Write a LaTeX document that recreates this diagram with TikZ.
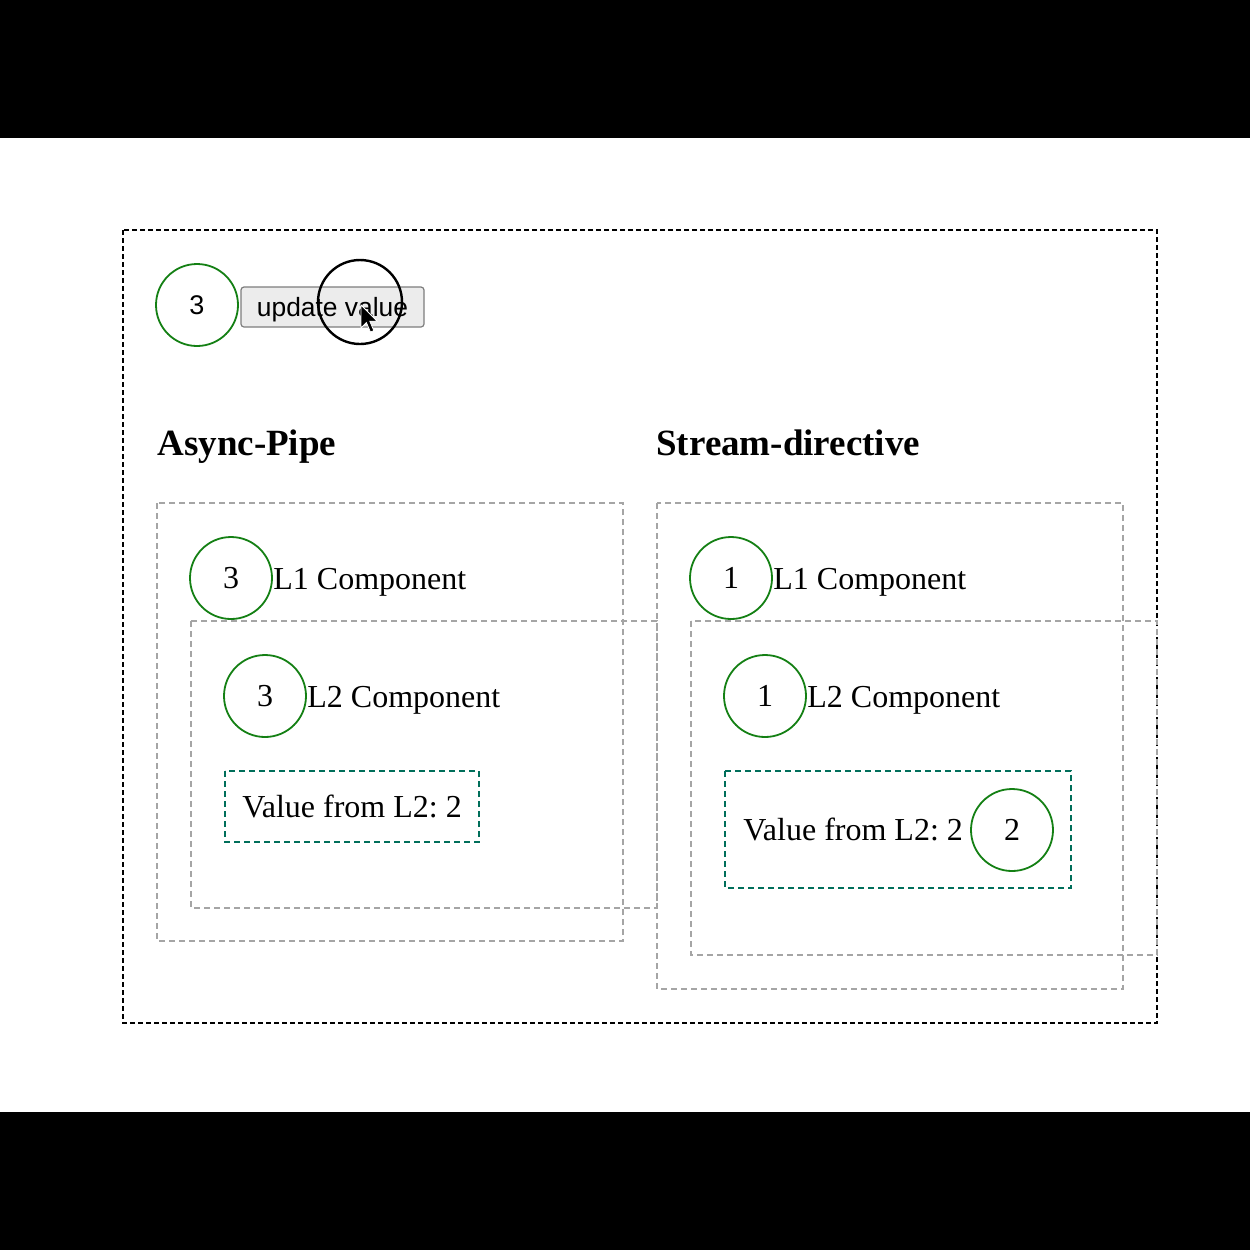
\documentclass[tikz,border=0pt]{standalone}
\usepackage{fontspec}
\setmainfont{Liberation Serif}
\setsansfont{Liberation Sans}
\frenchspacing
\definecolor{cgreen}{RGB}{20,128,20}
\definecolor{cteal}{RGB}{0,110,90}
\definecolor{cgray}{RGB}{165,165,165}
\definecolor{cbtn}{RGB}{236,236,236}
\definecolor{cbtnb}{RGB}{125,125,125}
\begin{document}
\begin{tikzpicture}[x=0.5pt,y=-0.5pt,
  valcircle/.style={circle,draw=cgreen,line width=0.9pt,minimum size=41pt,inner sep=0pt,fill=white,font=\fontsize{16}{18}\selectfont},
  graybox/.style={draw=cgray,line width=0.7pt,dash pattern=on 3pt off 2pt},
  tealbox/.style={draw=cteal,line width=0.8pt,dash pattern=on 3pt off 2pt},
  outerbox/.style={draw=black,line width=0.7pt,dash pattern=on 2.5pt off 1.5pt},
  comptext/.style={anchor=base west,inner sep=0pt,font=\fontsize{16}{18}\selectfont},
  headtext/.style={anchor=base west,inner sep=0pt,font=\bfseries\fontsize{18.5}{20}\selectfont}]
\useasboundingbox (0,0) rectangle (1250,1250);
\fill[white] (0,0) rectangle (1250,1250);
\fill[black] (0,0) rectangle (1250,138);
\fill[black] (0,1112) rectangle (1250,1250);
% outer
\draw[outerbox] (123,230) rectangle (1157,1023);
% top controls
\node[valcircle,font=\sffamily\fontsize{13.5}{15}\selectfont] (topval) at (197,305) {3};
\node[draw=cbtnb,fill=cbtn,rounded corners=1.5pt,line width=0.6pt,minimum width=91.5pt,minimum height=20pt,inner sep=0pt,text height=11.8pt,text depth=2.8pt,font=\sffamily\fontsize{13.2}{15}\selectfont] (btn) at (332.5,307) {update value};
\node[circle,draw=black,line width=1.2pt,minimum size=42pt,inner sep=0pt] (cursorring) at (360,302) {};
\coordinate (tip) at (361,305);
\filldraw[fill=black,draw=white,line width=0.4pt,shift={(tip)},scale=1.35]
  (0,0) -- (0,17) -- (4,13) -- (7,20) -- (9.5,19) -- (6.5,12) -- (12,12) -- cycle;
% headings
\node[headtext] (h1) at (157,455) {Async-Pipe};
\node[headtext] (h2) at (656,455) {Stream-directive};
% left column
\draw[graybox] (157,503) rectangle (623,941);
\draw[graybox] (191,621) rectangle (657,908);
\node[valcircle] (a1) at (231,578) {3};
\node[comptext] (a1t) at (273,589) {L1 Component};
\node[valcircle] (a2) at (265,696) {3};
\node[comptext] (a2t) at (307,707) {L2 Component};
\draw[tealbox] (225,771) rectangle (479,842);
\node[comptext,anchor=base] (av) at (352,817) {Value from L2: 2};
% right column
\draw[graybox] (657,503) rectangle (1123,989);
\draw[graybox] (691,621) rectangle (1157,955);
\node[valcircle] (b1) at (731,578) {1};
\node[comptext] (b1t) at (773,589) {L1 Component};
\node[valcircle] (b2) at (765,696) {1};
\node[comptext] (b2t) at (807,707) {L2 Component};
\draw[tealbox] (725,771) rectangle (1071,888);
\node[comptext] (bv) at (743,840) {Value from L2: 2};
\node[valcircle] (b3) at (1012,830) {2};
\end{tikzpicture}
\end{document}
